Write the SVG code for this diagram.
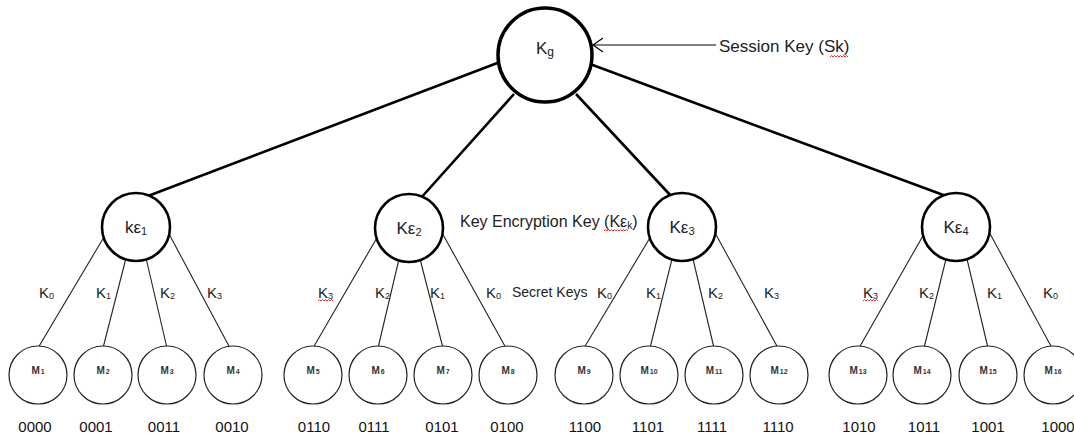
<svg xmlns="http://www.w3.org/2000/svg" width="1074" height="436" viewBox="0 0 1074 436">
<defs>
<style>
.bg{fill:#fff}
.thick{stroke:#000;stroke-width:2.6;fill:none}
.thin{stroke:#222;stroke-width:1.1;fill:none}
.root{fill:#fff;stroke:#000;stroke-width:3.5}
.mid{fill:#fff;stroke:#000;stroke-width:2.6}
.leaf{fill:#fff;stroke:#222;stroke-width:1.2}
text{font-family:"Liberation Sans",Arial,sans-serif;fill:#222}
.big{font-size:17px}
.note{font-size:16px}
.el{font-size:15px}
.sk{font-size:14px}
.ml{font-size:10px;text-anchor:middle;font-weight:bold;fill:#333}
.bits{font-size:15px;text-anchor:middle;fill:#111}
.ctr{text-anchor:middle}
.sq{stroke:#e02020;stroke-width:0.9;fill:none}
</style>
<marker id="openArrow" markerUnits="userSpaceOnUse" markerWidth="14" markerHeight="16" refX="11" refY="8" orient="auto">
<path d="M1,1 L11,8 L1,15" fill="none" stroke="#000" stroke-width="1.2"/>
</marker>
</defs>
<rect class="bg" x="0" y="0" width="1074" height="436"/>

<g id="connectors">
<line class="thick" x1="500" y1="62" x2="148" y2="196"/>
<line class="thick" x1="514" y1="94" x2="420" y2="199"/>
<line class="thick" x1="576" y1="94" x2="672" y2="197"/>
<line class="thick" x1="590" y1="64" x2="946" y2="196"/>
<line x1="716" y1="45" x2="593" y2="45" stroke="#000" stroke-width="1.2" marker-end="url(#openArrow)"/>

<line class="thin" x1="104" y1="237" x2="38" y2="348"/>
<line class="thin" x1="126" y1="258" x2="103" y2="348"/>
<line class="thin" x1="146" y1="258" x2="167" y2="348"/>
<line class="thin" x1="168" y1="232" x2="230" y2="348"/>

<line class="thin" x1="378" y1="236" x2="313" y2="348"/>
<line class="thin" x1="399" y1="259" x2="378" y2="348"/>
<line class="thin" x1="420" y1="259" x2="443" y2="348"/>
<line class="thin" x1="441" y1="231" x2="506" y2="348"/>

<line class="thin" x1="651" y1="236" x2="584" y2="348"/>
<line class="thin" x1="672" y1="259" x2="650" y2="348"/>
<line class="thin" x1="693" y1="259" x2="714" y2="348"/>
<line class="thin" x1="714" y1="231" x2="778" y2="348"/>

<line class="thin" x1="924" y1="234" x2="859" y2="348"/>
<line class="thin" x1="946" y1="259" x2="924" y2="348"/>
<line class="thin" x1="967" y1="259" x2="988" y2="348"/>
<line class="thin" x1="988" y1="230" x2="1052" y2="348"/>
</g>

<g id="edge-labels">
<text class="el" x="39" y="298">K<tspan font-size="9" dy="1">0</tspan></text>
<text class="el" x="96" y="298">K<tspan font-size="9" dy="1">1</tspan></text>
<text class="el" x="160" y="298">K<tspan font-size="9" dy="1">2</tspan></text>
<text class="el" x="207" y="298">K<tspan font-size="9" dy="1">3</tspan></text>

<text class="el" x="318" y="298">K<tspan font-size="9" dy="1">3</tspan></text>
<text class="el" x="375" y="298">K<tspan font-size="9" dy="1">2</tspan></text>
<text class="el" x="430" y="298">K<tspan font-size="9" dy="1">1</tspan></text>
<text class="el" x="486" y="298">K<tspan font-size="9" dy="1">0</tspan></text>
<text class="sk" x="512" y="297">Secret Keys</text>

<text class="el" x="597" y="298">K<tspan font-size="9" dy="1">0</tspan></text>
<text class="el" x="646" y="298">K<tspan font-size="9" dy="1">1</tspan></text>
<text class="el" x="708" y="298">K<tspan font-size="9" dy="1">2</tspan></text>
<text class="el" x="764" y="298">K<tspan font-size="9" dy="1">3</tspan></text>

<text class="el" x="863" y="298">K<tspan font-size="9" dy="1">3</tspan></text>
<text class="el" x="919" y="298">K<tspan font-size="9" dy="1">2</tspan></text>
<text class="el" x="987" y="298">K<tspan font-size="9" dy="1">1</tspan></text>
<text class="el" x="1043" y="298">K<tspan font-size="9" dy="1">0</tspan></text>

<path class="sq" d="M318,301 l1.5,-1.5 l1.5,1.5 l1.5,-1.5 l1.5,1.5 l1.5,-1.5 l1.5,1.5 l1.5,-1.5 l1.5,1.5 l1.5,-1.5 l1.5,1.5"/>
<path class="sq" d="M863,301 l1.5,-1.5 l1.5,1.5 l1.5,-1.5 l1.5,1.5 l1.5,-1.5 l1.5,1.5 l1.5,-1.5 l1.5,1.5 l1.5,-1.5 l1.5,1.5"/>
</g>

<g id="notes">
<text class="big" x="719" y="52">Session Key (Sk)</text>
<path class="sq" d="M830,57 l1.5,-1.5 l1.5,1.5 l1.5,-1.5 l1.5,1.5 l1.5,-1.5 l1.5,1.5 l1.5,-1.5 l1.5,1.5 l1.5,-1.5 l1.5,1.5 l1.5,-1.5 l1.5,1.5"/>
<text class="note" x="460" y="227">Key Encryption Key (Kε<tspan font-size="10" dy="2">k</tspan><tspan dy="-2">)</tspan></text>
<path class="sq" d="M604,231 l1.5,-1.5 l1.5,1.5 l1.5,-1.5 l1.5,1.5 l1.5,-1.5 l1.5,1.5 l1.5,-1.5 l1.5,1.5 l1.5,-1.5 l1.5,1.5 l1.5,-1.5 l1.5,1.5 l1.5,-1.5 l1.5,1.5 l1.5,-1.5 l1.5,1.5"/>
</g>

<g id="node-Kg">
<circle class="root" cx="545" cy="55" r="47"/>
<text class="big ctr" x="545" y="54">K<tspan font-size="12" dy="2">g</tspan></text>
</g>

<g id="node-ke1">
<circle class="mid" cx="136" cy="227" r="34"/>
<text class="big ctr" x="136" y="233">kε<tspan font-size="11" dy="2">1</tspan></text>
</g>
<g id="node-ke2">
<circle class="mid" cx="409" cy="228" r="34"/>
<text class="big ctr" x="409" y="234">Kε<tspan font-size="11" dy="2">2</tspan></text>
</g>
<g id="node-ke3">
<circle class="mid" cx="682" cy="227" r="34"/>
<text class="big ctr" x="682" y="233">Kε<tspan font-size="11" dy="2">3</tspan></text>
</g>
<g id="node-ke4">
<circle class="mid" cx="956" cy="227" r="34"/>
<text class="big ctr" x="956" y="233">Kε<tspan font-size="11" dy="2">4</tspan></text>
</g>

<g id="node-M1"><circle class="leaf" cx="38" cy="375" r="29"/><text class="ml" x="38" y="374">M<tspan font-size="7" dx="1">1</tspan></text><text class="bits" x="35" y="432">0000</text></g>
<g id="node-M2"><circle class="leaf" cx="103" cy="375" r="29"/><text class="ml" x="103" y="374">M<tspan font-size="7" dx="1">2</tspan></text><text class="bits" x="96" y="432">0001</text></g>
<g id="node-M3"><circle class="leaf" cx="167" cy="375" r="29"/><text class="ml" x="167" y="374">M<tspan font-size="7" dx="1">3</tspan></text><text class="bits" x="164" y="432">0011</text></g>
<g id="node-M4"><circle class="leaf" cx="233" cy="375" r="29"/><text class="ml" x="233" y="374">M<tspan font-size="7" dx="1">4</tspan></text><text class="bits" x="232" y="432">0010</text></g>

<g id="node-M5"><circle class="leaf" cx="313" cy="375" r="29"/><text class="ml" x="313" y="374">M<tspan font-size="7" dx="1">5</tspan></text><text class="bits" x="314" y="432">0110</text></g>
<g id="node-M6"><circle class="leaf" cx="378" cy="375" r="29"/><text class="ml" x="378" y="374">M<tspan font-size="7" dx="1">6</tspan></text><text class="bits" x="374" y="432">0111</text></g>
<g id="node-M7"><circle class="leaf" cx="443" cy="375" r="29"/><text class="ml" x="443" y="374">M<tspan font-size="7" dx="1">7</tspan></text><text class="bits" x="442" y="432">0101</text></g>
<g id="node-M8"><circle class="leaf" cx="508" cy="375" r="29"/><text class="ml" x="508" y="374">M<tspan font-size="7" dx="1">8</tspan></text><text class="bits" x="507" y="432">0100</text></g>

<g id="node-M9"><circle class="leaf" cx="584" cy="375" r="29"/><text class="ml" x="584" y="374">M<tspan font-size="7" dx="1">9</tspan></text><text class="bits" x="585" y="432">1100</text></g>
<g id="node-M10"><circle class="leaf" cx="649" cy="375" r="29"/><text class="ml" x="649" y="374">M<tspan font-size="7" dx="1">10</tspan></text><text class="bits" x="648" y="432">1101</text></g>
<g id="node-M11"><circle class="leaf" cx="714" cy="375" r="29"/><text class="ml" x="714" y="374">M<tspan font-size="7" dx="1">11</tspan></text><text class="bits" x="712" y="432">1111</text></g>
<g id="node-M12"><circle class="leaf" cx="779" cy="375" r="29"/><text class="ml" x="779" y="374">M<tspan font-size="7" dx="1">12</tspan></text><text class="bits" x="778" y="432">1110</text></g>

<g id="node-M13"><circle class="leaf" cx="858" cy="375" r="29"/><text class="ml" x="858" y="374">M<tspan font-size="7" dx="1">13</tspan></text><text class="bits" x="859" y="432">1010</text></g>
<g id="node-M14"><circle class="leaf" cx="922" cy="375" r="29"/><text class="ml" x="922" y="374">M<tspan font-size="7" dx="1">14</tspan></text><text class="bits" x="924" y="432">1011</text></g>
<g id="node-M15"><circle class="leaf" cx="988" cy="375" r="29"/><text class="ml" x="988" y="374">M<tspan font-size="7" dx="1">15</tspan></text><text class="bits" x="988" y="432">1001</text></g>
<g id="node-M16"><circle class="leaf" cx="1053" cy="375" r="29"/><text class="ml" x="1053" y="374">M<tspan font-size="7" dx="1">16</tspan></text><text class="bits" x="1058" y="432">1000</text></g>
</svg>
